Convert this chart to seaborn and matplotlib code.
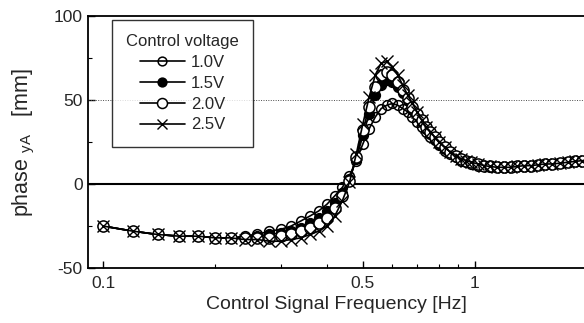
import numpy as np
import pandas as pd
import matplotlib
matplotlib.use("Agg")
import matplotlib.pyplot as plt
import matplotlib.ticker as mticker
import seaborn as sns

freq = [0.10, 0.12, 0.14, 0.16, 0.18, 0.20, 0.22, 0.24, 0.26, 0.28, 0.30, 0.32, 0.34, 0.36,
        0.38, 0.40, 0.42, 0.44, 0.46, 0.48, 0.50, 0.52, 0.54, 0.56, 0.58, 0.60, 0.62, 0.64,
        0.66, 0.68, 0.70, 0.72, 0.74, 0.76, 0.78, 0.80, 0.83, 0.86, 0.89, 0.92, 0.95, 0.98,
        1.02, 1.06, 1.10, 1.15, 1.20, 1.25, 1.30, 1.36, 1.42, 1.48, 1.55, 1.62, 1.70, 1.78,
        1.86, 1.95]

v10 = [-25, -28, -30, -31, -31, -32, -32, -31, -30, -28, -27, -25, -22, -19,
       -16, -12, -7, -2, 5, 14, 24, 33, 40, 45, 47, 48, 47, 45,
       43, 40, 37, 34, 31, 28, 26, 23, 20, 18, 16, 14, 13, 12,
       11, 10.5, 10, 10, 10, 10, 10.5, 11, 11, 11.5, 12, 12, 12.5, 13,
       13.5, 14]
v15 = [-25, -28, -30, -31, -31, -32, -32, -32, -31, -30, -29, -28, -26, -23,
       -20, -16, -11, -5, 3, 15, 29, 42, 53, 59, 62, 61, 58, 54,
       50, 45, 41, 37, 33, 30, 27, 24, 21, 19, 17, 15, 14, 13,
       12, 11, 10.5, 10, 10, 10, 10.5, 11, 11, 11.5, 12, 12, 12.5, 13,
       13.5, 14]
v20 = [-25, -28, -30, -31, -31, -32, -32, -32, -32, -32, -31, -30, -28, -26,
       -23, -20, -14, -7, 2, 16, 32, 46, 58, 65, 67, 65, 61, 56,
       51, 46, 42, 38, 34, 31, 28, 25, 22, 19, 17, 15, 14, 13,
       12, 11, 10.5, 10, 10, 10, 10.5, 11, 11, 11.5, 12, 12, 12.5, 13,
       13.5, 14]
v25 = [-25, -28, -30, -31, -31, -32, -32, -33, -33, -34, -34, -33, -32, -30,
       -28, -25, -19, -10, 1, 18, 36, 52, 65, 72, 73, 70, 65, 59,
       53, 48, 43, 38, 34, 31, 28, 25, 22, 19, 17, 15, 14, 13,
       12, 11, 10.5, 10, 10, 10, 10.5, 11, 11, 11.5, 12, 12, 12.5, 13,
       13.5, 14]

labels = ["1.0V", "1.5V", "2.0V", "2.5V"]
series = [v10, v15, v20, v25]

df = pd.concat([pd.DataFrame({"freq": freq, "phase": s, "voltage": lab})
                for lab, s in zip(labels, series)], ignore_index=True)

sns.set_style("ticks")
plt.rcParams['font.family'] = ['Liberation Sans', 'DejaVu Sans']
plt.rcParams['mathtext.fontset'] = 'custom'
plt.rcParams['mathtext.rm'] = 'Liberation Sans'
plt.rcParams['axes.unicode_minus'] = False

fig = plt.figure(figsize=(5.84, 3.23), dpi=100)
ax = fig.add_axes([0.151, 0.170, 0.849, 0.780])

styles = {
    "1.0V": dict(marker="o", markerfacecolor="none", markeredgecolor="black", markersize=7, markeredgewidth=1.1),
    "1.5V": dict(marker="o", markerfacecolor="black", markeredgecolor="black", markersize=7, markeredgewidth=1.1),
    "2.0V": dict(marker="o", markerfacecolor="white", markeredgecolor="black", markersize=8, markeredgewidth=1.1),
    "2.5V": dict(marker="x", markeredgecolor="black", markersize=8, markeredgewidth=1.0),
}

ax.axhline(50, color="0.3", linestyle=(0, (1, 1.5)), linewidth=0.7, zorder=1)
ax.axhline(0, color="black", linewidth=1.5, zorder=1)

for lab in labels:
    sub = df[df["voltage"] == lab]
    sns.lineplot(data=sub, x="freq", y="phase", ax=ax, color="black", linewidth=1.2,
                 label=lab, **styles[lab])

ax.set_xscale("log")
ax.set_xlim(0.091, 1.97)
ax.set_ylim(-50, 100)

ax.xaxis.set_major_locator(mticker.FixedLocator([0.1, 0.5, 1.0]))
ax.xaxis.set_major_formatter(mticker.FixedFormatter(["0.1", "0.5", "1"]))
ax.xaxis.set_minor_locator(mticker.FixedLocator([0.2, 0.3, 0.4, 0.6, 0.7, 0.8, 0.9]))
ax.xaxis.set_minor_formatter(mticker.NullFormatter())
ax.yaxis.set_major_locator(mticker.FixedLocator([-50, 0, 50, 100]))
ax.yaxis.set_minor_locator(mticker.FixedLocator([-25, 25, 75]))

ax.tick_params(axis="both", which="both", direction="in", labelsize=12.5, color="black")
ax.tick_params(which="major", length=5, width=1)
ax.tick_params(which="minor", length=3, width=0.8)
ax.tick_params(axis="y", pad=4)
ax.tick_params(axis="x", pad=6)

for side in ["left", "bottom", "top"]:
    ax.spines[side].set_linewidth(1.3)
    ax.spines[side].set_color("black")
ax.spines["top"].set_visible(True)
ax.spines["right"].set_visible(False)

ax.set_xlabel("Control Signal Frequency [Hz]", fontsize=14, labelpad=3)
ax.set_ylabel("phase $_{\\mathrm{yA}}$   [mm]", fontsize=15.5, labelpad=12)

leg = ax.legend(title="Control voltage", loc="upper left", bbox_to_anchor=(0.048, 0.985),
                borderaxespad=0.0,
                frameon=True, fancybox=False, edgecolor="black", fontsize=12,
                title_fontsize=12, handlelength=2.7, labelspacing=0.35,
                borderpad=0.85, handletextpad=0.4, markerscale=0.9)
leg.get_frame().set_linewidth(1.0)

fig.savefig("out.png", dpi=100)
